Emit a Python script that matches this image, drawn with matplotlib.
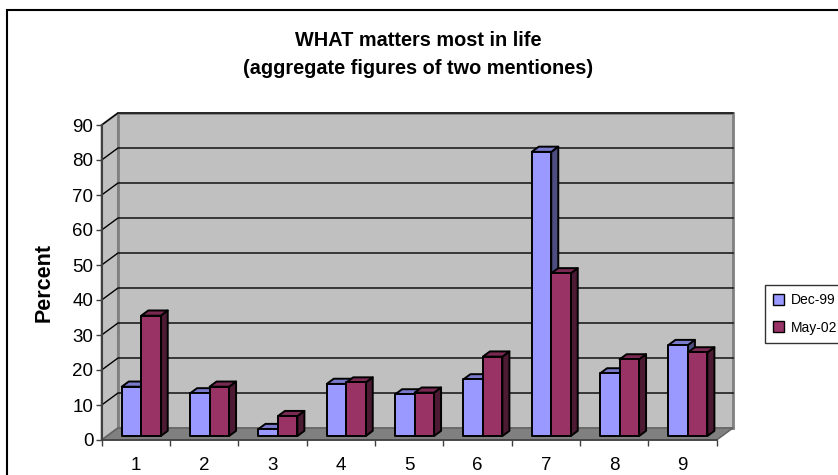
import matplotlib
matplotlib.use("Agg")
import matplotlib.pyplot as plt
from matplotlib.patches import Polygon, Patch, Rectangle

plt.rcParams['font.family'] = ['Liberation Sans', 'DejaVu Sans']

categories = ['1', '2', '3', '4', '5', '6', '7', '8', '9']
series = ['Dec-99', 'May-02']
dec99 = [14.1, 12.2, 2.0, 14.9, 11.9, 16.2, 81.2, 17.9, 26.0]
may02 = [34.4, 14.1, 5.7, 15.3, 12.4, 22.7, 46.5, 21.9, 23.9]
yticks = [0, 10, 20, 30, 40, 50, 60, 70, 80, 90]
title1 = "WHAT matters most in life"
title2 = "(aggregate figures of two mentiones)"

colors = ['#9999FF', '#993366']
tops = ['#7A7ACC', '#7A2952']
sides = ['#4D4D80', '#4D1A33']

# oblique depth offset (category units, value units)
DX, DY = 0.2386, 3.43
D0, D1 = 0.33, 0.76     # bar depth range as fraction of floor depth
BW = 0.285              # bar width
n = len(categories)
ymax = yticks[-1]


def P(x, y, d):
    return (x + d * DX, y + d * DY)


fig = plt.figure(figsize=(8.38, 4.75), dpi=100)
ax = fig.add_axes([101.7 / 838, 35 / 475, 615 / 838, 315 / 475])
ax.set_xlim(0, n)
ax.set_ylim(0, ymax)
ax.patch.set_visible(False)

# walls and floor
wall = '#C0C0C0'
ax.add_patch(Polygon([P(0, 0, 1), P(n, 0, 1), P(n, ymax, 1), P(0, ymax, 1)],
                     closed=True, fc=wall, ec='#808080', lw=2, clip_on=False, zorder=1))
ax.add_patch(Polygon([P(0, 0, 0), P(0, 0, 1), P(0, ymax, 1), P(0, ymax, 0)],
                     closed=True, fc=wall, ec='#808080', lw=1.5, clip_on=False, zorder=1))
ax.add_patch(Polygon([P(0, 0, 0), P(n, 0, 0), P(n, 0, 1), P(0, 0, 1)],
                     closed=True, fc='#808080', ec='#606060', lw=1, clip_on=False, zorder=1))
for v in yticks[1:]:
    a, b, c = P(0, v, 0), P(0, v, 1), P(n, v, 1)
    ax.plot([a[0], b[0], c[0]], [a[1], b[1], c[1]], color='black', lw=1,
            clip_on=False, zorder=2)

# bars
for i in range(n):
    for k, vals in enumerate([dec99, may02]):
        v = vals[i]
        x0 = i + 0.5 - BW + k * BW
        x1 = x0 + BW
        front = [P(x0, 0, D0), P(x1, 0, D0), P(x1, v, D0), P(x0, v, D0)]
        top = [P(x0, v, D0), P(x1, v, D0), P(x1, v, D1), P(x0, v, D1)]
        side = [P(x1, 0, D0), P(x1, 0, D1), P(x1, v, D1), P(x1, v, D0)]
        z = 3 + i * 2 + k
        for pts, fc in [(side, sides[k]), (top, tops[k]), (front, colors[k])]:
            ax.add_patch(Polygon(pts, closed=True, fc=fc, ec='black', lw=1.4,
                                 joinstyle='round', clip_on=False, zorder=z))

# axes
for s in ['top', 'right']:
    ax.spines[s].set_visible(False)
ax.spines['left'].set_color('#404040')
ax.spines['left'].set_linewidth(1.5)
ax.spines['bottom'].set_color('#404040')
ax.spines['bottom'].set_linewidth(1.2)
ax.spines['left'].set_zorder(30)
ax.spines['bottom'].set_zorder(30)
ax.set_yticks(yticks)
ax.set_yticklabels([str(t) for t in yticks], fontsize=13.5)
ax.tick_params(axis='y', length=4, width=1, color='#404040', pad=2)
ax.set_xticks(range(n + 1))
ax.set_xticklabels([])
ax.tick_params(axis='x', which='major', length=4, width=1, color='#404040')
ax.set_xticks([i + 0.5 for i in range(n)], minor=True)
ax.set_xticklabels(categories, minor=True, fontsize=13.5)
ax.tick_params(axis='x', which='minor', length=0, pad=12)

fig.text(418 / 838, 1 - 40 / 475, title1, ha='center', va='center',
         fontsize=14.3, fontweight='bold')
fig.text(418 / 838, 1 - 68 / 475, title2, ha='center', va='center',
         fontsize=14.3, fontweight='bold')
fig.text(44 / 838, 1 - 282 / 475, 'Percent', ha='center', va='center',
         rotation=90, fontsize=15.5, fontweight='bold')

# chart area border
fig.patches.append(Rectangle((7 / 838, -0.1), 1.1, 1 - 10 / 475 + 0.1,
                             transform=fig.transFigure, fill=False,
                             ec='black', lw=1.5))

handles = [Patch(fc=colors[k], ec='black', lw=1) for k in range(2)]
leg = fig.legend(handles, series, loc='upper left',
                 bbox_to_anchor=(765 / 838, 1 - 285 / 475), fontsize=10,
                 frameon=True, fancybox=False, handlelength=0.75,
                 handleheight=0.8, handletextpad=0.5, borderpad=0.6,
                 labelspacing=0.95, borderaxespad=0)
leg.get_frame().set_edgecolor('black')
leg.get_frame().set_linewidth(1)

fig.savefig('out.png', dpi=100)
